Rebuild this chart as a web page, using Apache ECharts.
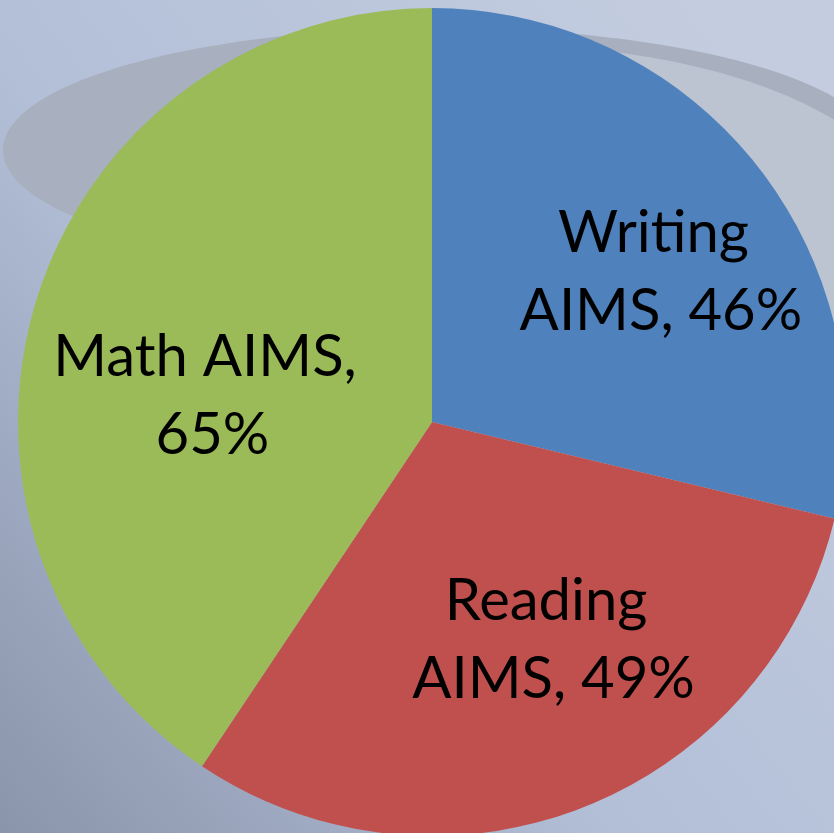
<!DOCTYPE html>
<html>
<head>
<meta charset="utf-8">
<script src="https://cdn.jsdelivr.net/npm/echarts@6/dist/echarts.min.js"></script>
<style>
  html, body { margin: 0; padding: 0; }
  #main { width: 834px; height: 833px; }
</style>
</head>
<body>
<div id="main"></div>
<script>
// chart data
var subjects = ["Writing AIMS", "Reading AIMS", "Math AIMS"];
var passRates = [46, 49, 65];
var sliceColors = ["#4F81BD", "#C0504D", "#9BBB59"];

// label nudges, like the "best fit" placement of the original
var labelOffsets = [[64, -20], [45, 23], [-26, 35]];
var labelWidths = [300, 300, 310];

var myChart = echarts.init(document.getElementById("main"));

var pieData = [];
for (var i = 0; i < subjects.length; i++) {
  pieData.push({
    name: subjects[i],
    value: passRates[i],
    itemStyle: { color: sliceColors[i] },
    label: { offset: labelOffsets[i], width: labelWidths[i] },
  });
}

myChart.setOption({
  animation: false,
  backgroundColor: {
    type: "linear",
    x: 1, y: 0.2, x2: 0, y2: 1,
    colorStops: [
      { offset: 0, color: "#c4cde0" },
      { offset: 0.55, color: "#b2bfd7" },
      { offset: 1, color: "#8a94ab" },
    ],
  },
  graphic: [
    {
      type: "ellipse",
      shape: { cx: 440, cy: 150, rx: 437, ry: 122 },
      style: { fill: "#a8afbe" },
      silent: true,
    },
    {
      type: "ellipse",
      shape: { cx: 500, cy: 223, rx: 410, ry: 178 },
      style: { fill: "#bcc3d1" },
      silent: true,
    },
  ],
  series: [
    {
      type: "pie",
      center: [432, 422],
      radius: 414,
      startAngle: 90,
      clockwise: true,
      avoidLabelOverlap: false,
      silent: true,
      z: 10,
      itemStyle: { borderWidth: 0 },
      label: {
        show: true,
        position: "inside",
        formatter: "{b}, {c}%",
        color: "#000",
        fontFamily: "Lato",
        fontSize: 58,
        lineHeight: 78,
        overflow: "break",
        align: "center",
      },
      labelLine: { show: false },
      data: pieData,
    },
  ],
});
</script>
</body>
</html>
